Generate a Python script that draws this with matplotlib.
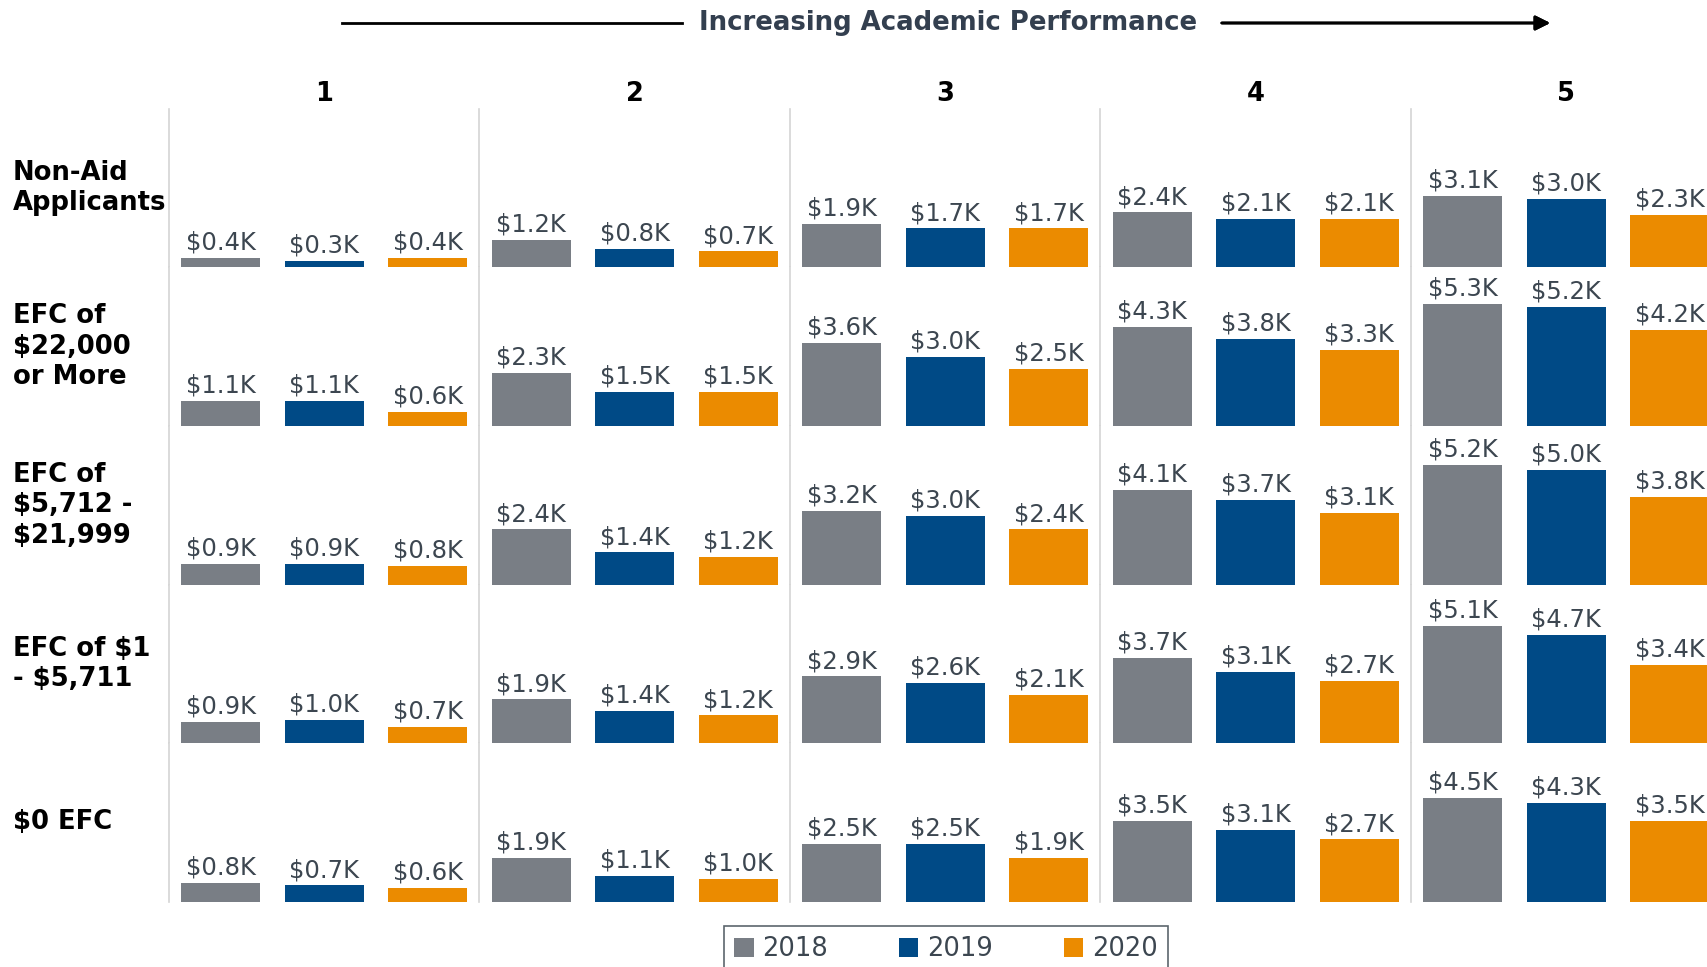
import matplotlib
matplotlib.use("Agg")
import matplotlib.pyplot as plt
from matplotlib.lines import Line2D
from matplotlib.patches import Patch

row_labels = ["Non-Aid\nApplicants", "EFC of\n$22,000\nor More", "EFC of\n$5,712 -\n$21,999",
              "EFC of $1\n- $5,711", "$0 EFC"]
col_labels = ["1", "2", "3", "4", "5"]
years = ["2018", "2019", "2020"]
colors = ["#797e85", "#004a86", "#eb8b00"]

# values in $K, rows x performance columns
vals_2018 = [[0.4, 1.2, 1.9, 2.4, 3.1],
             [1.1, 2.3, 3.6, 4.3, 5.3],
             [0.9, 2.4, 3.2, 4.1, 5.2],
             [0.9, 1.9, 2.9, 3.7, 5.1],
             [0.8, 1.9, 2.5, 3.5, 4.5]]
vals_2019 = [[0.3, 0.8, 1.7, 2.1, 3.0],
             [1.1, 1.5, 3.0, 3.8, 5.2],
             [0.9, 1.4, 3.0, 3.7, 5.0],
             [1.0, 1.4, 2.6, 3.1, 4.7],
             [0.7, 1.1, 2.5, 3.1, 4.3]]
vals_2020 = [[0.4, 0.7, 1.7, 2.1, 2.3],
             [0.6, 1.5, 2.5, 3.3, 4.2],
             [0.8, 1.2, 2.4, 3.1, 3.8],
             [0.7, 1.2, 2.1, 2.7, 3.4],
             [0.6, 1.0, 1.9, 2.7, 3.5]]
all_vals = [vals_2018, vals_2019, vals_2020]

W, H = 1708, 967
fig = plt.figure(figsize=(W / 100, H / 100), dpi=100)

left, top = 169, 109
cw, rh = 310.5, 158.5
text_col = "#3c4650"

for r in range(5):
	for c in range(5):
		ax = fig.add_axes([(left + c * cw) / W, 1 - (top + (r + 1) * rh) / H, cw / W, rh / H])
		heights = [all_vals[k][r][c] for k in range(3)]
		ax.bar(range(3), heights, width=0.76, color=colors)
		for k, h in enumerate(heights):
			ax.annotate("${:.1f}K".format(h), (k, h), xytext=(0, 6), textcoords="offset points",
						ha="center", va="baseline", fontsize=17.5, color=text_col)
		ax.set_xlim(-0.5, 2.5)
		ax.set_ylim(0, 6.9)
		ax.set_xticks([])
		ax.set_yticks([])
		for s in ["top", "right", "bottom"]:
			ax.spines[s].set_visible(False)
		ax.spines["left"].set_color("#d4d4d4")
		ax.spines["left"].set_linewidth(1.2)
		if r == 0:
			ax.text(0.5, (top - 94) / rh + 1, col_labels[c], transform=ax.transAxes, ha="center",
					va="center", fontsize=18.5, fontweight="bold", color="black")

for r, lab in enumerate(row_labels):
	fig.text(13 / W, 1 - (top + (r + 0.5) * rh) / H, lab, ha="left", va="center",
			 fontsize=18.6, fontweight="bold", color="black", linespacing=1.22)

# title with arrow
ty = 1 - 23 / H
fig.text(948 / W, ty, "Increasing Academic Performance", ha="center", va="center",
		 fontsize=18.7, fontweight="bold", color="#333f4f")
fig.add_artist(Line2D([342 / W, 682 / W], [ty, ty], color="black", lw=2))
fig.add_artist(plt.annotate("", xy=(1553 / W, ty), xytext=(1219 / W, ty), xycoords="figure fraction",
							arrowprops=dict(arrowstyle="-|>", color="black", lw=2, mutation_scale=22)))

handles = [Patch(facecolor=colors[k], label=years[k]) for k in range(3)]
leg = fig.legend(handles=handles, loc="upper center", bbox_to_anchor=(946 / W, 1 - 926 / H), ncol=3,
				 fontsize=18.5, frameon=True, fancybox=False, handlelength=0.75, handleheight=0.75,
				 handletextpad=0.35, columnspacing=2.75, borderpad=0.4, borderaxespad=0,
				 labelcolor=text_col)
leg.get_frame().set_edgecolor("#333f48")
leg.get_frame().set_linewidth(1.2)

fig.savefig("out.png", dpi=100)
